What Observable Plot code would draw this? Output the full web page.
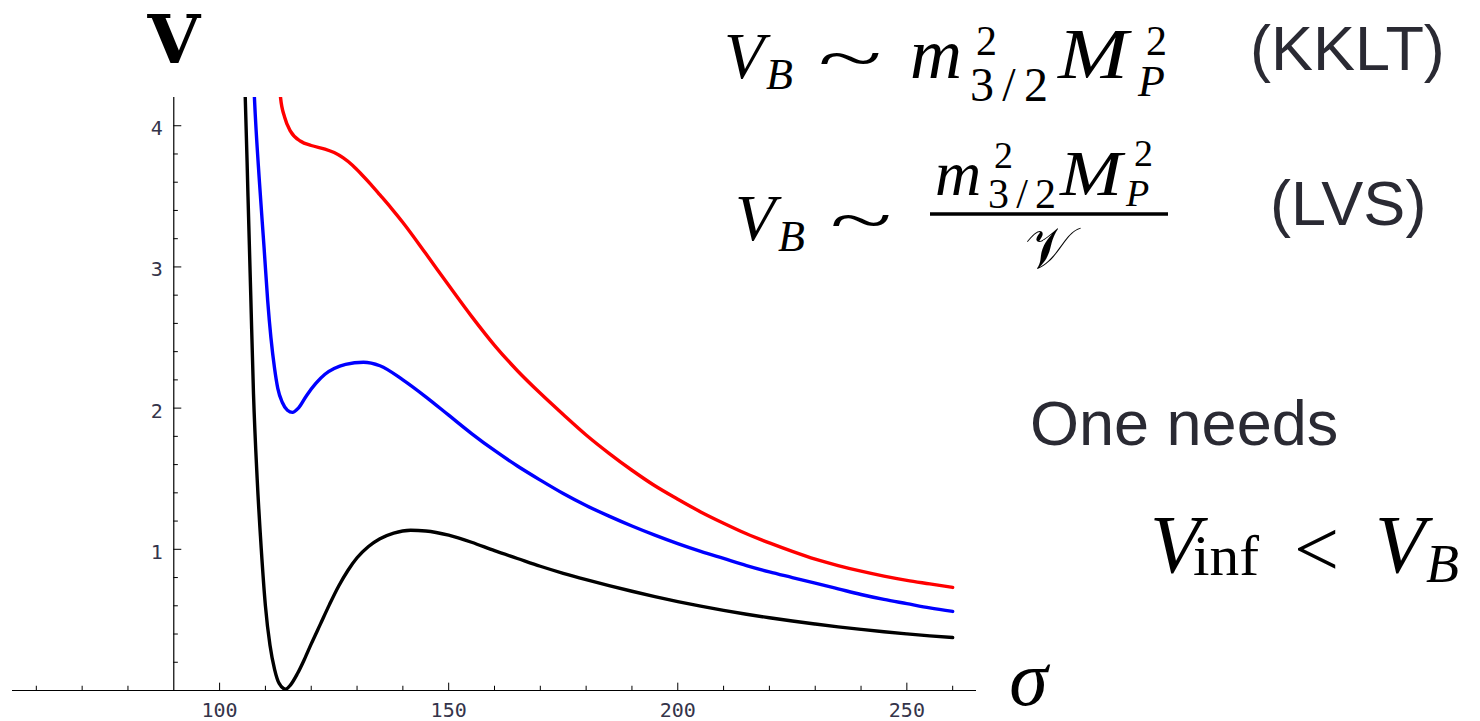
<!DOCTYPE html>
<html>
<head>
<meta charset="utf-8">
<script src="https://cdn.jsdelivr.net/npm/d3@7"></script>
<script src="https://cdn.jsdelivr.net/npm/@observablehq/plot@0.6"></script>
<style>
  html, body { margin: 0; padding: 0; background: #fff; }
  #chart { position: relative; width: 1480px; height: 721px; overflow: hidden; }
</style>
</head>
<body>
<div id="chart"></div>
<script>
// ---- data ----
const blackX = [104.9, 105.6, 106.2, 106.8, 107.4, 108.2, 109.1, 110.0, 111.0, 112.0, 113.0, 114.4, 115.5, 117.0, 118.5, 120.0, 122.0, 124.0, 126.0, 128.0, 130.0, 132.5, 135.0, 138.0, 141.7, 145.0, 150.0, 155.0, 160.0, 165.0, 170.0, 175.0, 180.0, 185.0, 190.0, 195.0, 200.0, 205.0, 210.0, 215.0, 220.0, 225.0, 230.0, 235.0, 240.0, 245.0, 250.0, 255.0, 260.0];
const blackY = [4.6, 4.2, 3.5, 2.8, 2.1, 1.5, 1.0, 0.6, 0.32, 0.15, 0.05, 0.01, 0.04, 0.12, 0.22, 0.33, 0.47, 0.61, 0.74, 0.85, 0.94, 1.02, 1.075, 1.115, 1.135, 1.13, 1.10, 1.05, 0.99, 0.935, 0.88, 0.83, 0.785, 0.743, 0.703, 0.665, 0.63, 0.597, 0.567, 0.54, 0.515, 0.492, 0.471, 0.451, 0.433, 0.416, 0.401, 0.387, 0.375];

const blueX = [107.1, 107.6, 108.7, 109.7, 110.5, 111.2, 112.0, 112.7, 113.7, 114.8, 115.9, 117.2, 119.0, 121.0, 123.0, 125.0, 127.5, 131.4, 135.0, 140.0, 145.0, 150.0, 155.0, 160.0, 165.0, 170.0, 175.0, 180.0, 185.0, 190.0, 195.0, 200.0, 205.0, 210.0, 215.0, 220.0, 225.0, 230.0, 235.0, 240.0, 245.0, 250.0, 255.0, 260.0];
const blueY = [4.6, 4.2, 3.6, 3.14, 2.76, 2.5, 2.28, 2.14, 2.04, 1.985, 1.97, 2.0, 2.09, 2.175, 2.24, 2.28, 2.31, 2.325, 2.30, 2.20, 2.08, 1.95, 1.82, 1.70, 1.59, 1.49, 1.395, 1.31, 1.235, 1.165, 1.10, 1.04, 0.985, 0.935, 0.885, 0.84, 0.80, 0.76, 0.72, 0.68, 0.645, 0.615, 0.585, 0.56];

const redX = [112.8, 113.3, 114.2, 115.5, 117.7, 120.0, 123.0, 125.0, 127.0, 129.0, 131.0, 133.0, 135.0, 137.5, 140.0, 145.0, 150.0, 155.0, 160.0, 165.0, 170.0, 175.0, 180.0, 185.0, 190.0, 195.0, 200.0, 205.0, 210.0, 215.0, 220.0, 225.0, 230.0, 235.0, 240.0, 245.0, 250.0, 255.0, 260.0];
const redY = [4.5, 4.2, 4.06, 3.96, 3.89, 3.86, 3.835, 3.81, 3.772, 3.72, 3.655, 3.585, 3.51, 3.415, 3.315, 3.095, 2.87, 2.65, 2.445, 2.265, 2.105, 1.955, 1.81, 1.68, 1.56, 1.45, 1.355, 1.265, 1.185, 1.11, 1.045, 0.985, 0.93, 0.885, 0.845, 0.81, 0.78, 0.755, 0.73];

const xMajor = [100, 150, 200, 250];
const xMinor = [60, 70, 80, 110, 120, 130, 140, 160, 170, 180, 190, 210, 220, 230, 240, 260];
const yMajor = [1, 2, 3, 4];
const yMinor = [0.2, 0.4, 0.6, 0.8, 1.2, 1.4, 1.6, 1.8, 2.2, 2.4, 2.6, 2.8, 3.2, 3.4, 3.6, 3.8];
const xLabel = "σ";
const yLabel = "V";

const toRows = (xs, ys) => xs.map((x, i) => ({x, y: ys[i]}));
const black = toRows(blackX, blackY);
const blue = toRows(blueX, blueY);
const red = toRows(redX, redY);

const tickFont = "DejaVu Sans Mono";
const tickColor = "#34344a";

const svg = Plot.plot({
  width: 1480,
  height: 721,
  marginTop: 97,
  marginBottom: 31,
  marginLeft: 12,
  marginRight: 504,
  x: {domain: [54.8, 265.2], axis: null},
  y: {domain: [0, 4.2], axis: null},
  style: {background: "#fff", overflow: "visible"},
  marks: [
    Plot.ruleY([0], {stroke: "#000", strokeWidth: 1.2}),
    Plot.ruleX([90], {y1: 0, y2: 4.2, stroke: "#000", strokeWidth: 1.2}),
    Plot.ruleX(xMajor, {x: d => d, y1: 0, y2: 0.052, stroke: "#000", strokeWidth: 1}),
    Plot.ruleX(xMinor, {x: d => d, y1: 0, y2: 0.03, stroke: "#000", strokeWidth: 1}),
    Plot.ruleY(yMajor, {y: d => d, x1: 90, x2: 91.75, stroke: "#000", strokeWidth: 1}),
    Plot.ruleY(yMinor, {y: d => d, x1: 90, x2: 91.0, stroke: "#000", strokeWidth: 1}),
    Plot.text(xMajor, {x: d => d, y: 0, dy: 20, text: d => String(d), fontFamily: tickFont, fontSize: 20, fill: tickColor}),
    Plot.text(yMajor, {x: 90, y: d => d, dx: -11, dy: 3, textAnchor: "end", text: d => String(d), fontFamily: tickFont, fontSize: 20, fill: tickColor}),
    Plot.line(black, {x: "x", y: "y", stroke: "#000", strokeWidth: 3.4, curve: "monotone-x", clip: true}),
    Plot.line(blue, {x: "x", y: "y", stroke: "#0000ff", strokeWidth: 3.4, curve: "monotone-x", clip: true}),
    Plot.line(red, {x: "x", y: "y", stroke: "#ff0000", strokeWidth: 3.4, curve: "monotone-x", clip: true}),
    Plot.text([yLabel], {x: 90, y: 4.2, dy: -56, text: d => d, fontFamily: "DejaVu Serif", fontWeight: "bold", fontSize: 68, fill: "#000"}),
    Plot.text([xLabel], {x: 265.2, y: 0, dx: 52, dy: -10, text: d => d, fontFamily: "Liberation Serif", fontStyle: "italic", fontSize: 78, fill: "#000"})
  ]
});
document.getElementById("chart").appendChild(svg);

// ---- annotations (formulas) ----
const g = d3.select(svg).append("g").attr("class", "annotations");
const serif = "'Liberation Serif', 'DejaVu Serif', serif";
const sans = "'Liberation Sans', Arial, sans-serif";
function t(str, x, y, size, opts = {}) {
  const el = g.append("text")
    .attr("x", x).attr("y", y)
    .attr("font-family", opts.family || serif)
    .attr("font-size", size)
    .attr("font-style", opts.italic ? "italic" : "normal")
    .attr("fill", opts.fill || "#000")
    .attr("text-anchor", opts.anchor || "start")
    .text(str);
  if (opts.len) el.attr("textLength", opts.len).attr("lengthAdjust", opts.adj || "spacingAndGlyphs");
}
// Line 1: V_B ~ m^2_{3/2} M^2_P   (KKLT)
t("V", 724, 78, 66, {italic: true});
t("B", 766, 89, 44, {italic: true});
t("~", 818, 80, 66, {len: 64});
t("m", 910, 78, 72, {italic: true});
t("2", 976, 55, 42);
t("3/2", 970, 101, 48, {len: 78, adj: "spacing"});
t("M", 1058, 78, 72, {italic: true, len: 70});
t("2", 1146, 55, 42);
t("P", 1138, 96, 44, {italic: true});
t("(KKLT)", 1250, 70, 63, {family: sans, fill: "#2a2a33"});

// Line 2: V_B ~ m^2_{3/2} M^2_P / 𝒱   (LVS)
t("V", 735, 240, 66, {italic: true});
t("B", 778, 251, 44, {italic: true});
t("~", 830, 242, 66, {len: 62});
t("m", 935, 195, 64, {italic: true});
t("2", 994, 168, 38);
t("3/2", 988, 208, 42, {len: 68, adj: "spacing"});
t("M", 1060, 195, 64, {italic: true, len: 62});
t("2", 1134, 166, 38);
t("P", 1126, 206, 38, {italic: true});
g.append("line").attr("x1", 930).attr("x2", 1168).attr("y1", 214).attr("y2", 214).attr("stroke", "#000").attr("stroke-width", 3.5);
t("𝒱", 1049, 268, 58, {anchor: "middle"});
t("(LVS)", 1270, 225, 63, {family: sans, fill: "#2a2a33"});

// One needs V_inf < V_B
t("One needs", 1030, 445, 63, {family: sans, fill: "#2a2a33"});
t("V", 1150, 572, 82, {italic: true});
t("inf", 1193, 575, 58, {len: 66});
t("<", 1294, 576, 80);
t("V", 1375, 572, 82, {italic: true});
t("B", 1426, 582, 54, {italic: true});
</script>
</body>
</html>
